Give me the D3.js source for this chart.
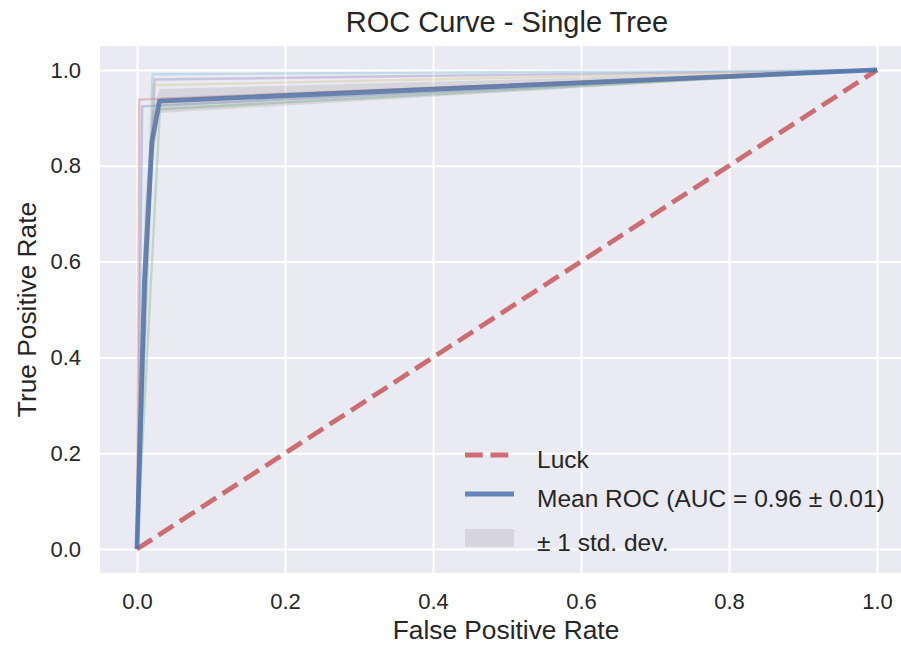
<!DOCTYPE html>
<html>
<head>
<meta charset="utf-8">
<script src="https://cdn.jsdelivr.net/npm/d3@7"></script>
<style>
  html, body { margin: 0; padding: 0; background: #ffffff; }
  svg { display: block; font-family: "Liberation Sans", Arial, sans-serif; }
</style>
</head>
<body>
<svg id="chart" width="901" height="646"></svg>
<script>
// ---- data ----
const titleText = "ROC Curve - Single Tree";
const xLabel = "False Positive Rate";
const yLabel = "True Positive Rate";
const xTicks = [0.0, 0.2, 0.4, 0.6, 0.8, 1.0];
const yTicks = [0.0, 0.2, 0.4, 0.6, 0.8, 1.0];

// individual folds: each ROC is (0,0) -> (corner fpr, corner tpr) -> (1,1)
const foldColors = ["#4C72B0", "#55A868", "#C44E52", "#8172B2", "#CCB974", "#64B5CD"];
const foldFpr = [0.007, 0.031, 0.003, 0.024, 0.022, 0.021];
const foldTpr = [0.924, 0.918, 0.938, 0.980, 0.968, 0.991];

// mean ROC and its standard deviation
const meanFpr = [0, 0.0101, 0.0202, 0.0303, 1.0];
const meanTpr = [0, 0.56, 0.85, 0.935, 1.0];
const stdTpr  = [0, 0.15, 0.06, 0.025, 0.0];

// chance line
const luckX = [0, 1];
const luckY = [0, 1];

const legendLabels = ["Luck", "Mean ROC (AUC = 0.96 \u00B1 0.01)", "\u00B1 1 std. dev."];

// ---- layout ----
const svg = d3.select("#chart");
const pL = 100, pR = 914, pT = 46, pB = 573;

const x = d3.scaleLinear().domain([-0.05, 1.05]).range([pL, pR]);
const y = d3.scaleLinear().domain([-0.05, 1.05]).range([pB, pT]);

const textColor = "#262626";
const fontFam = "'Liberation Sans', Arial, sans-serif";

// background
svg.append("rect")
  .attr("x", pL).attr("y", pT)
  .attr("width", pR - pL).attr("height", pB - pT)
  .attr("fill", "#EAEAF2");

svg.append("defs").append("clipPath").attr("id", "plotclip")
  .append("rect")
  .attr("x", pL).attr("y", pT)
  .attr("width", pR - pL).attr("height", pB - pT);

// grid via axes
const xGrid = d3.axisBottom(x).tickValues(xTicks).tickSize(-(pB - pT)).tickFormat("");
const yGrid = d3.axisLeft(y).tickValues(yTicks).tickSize(-(pR - pL)).tickFormat("");
svg.append("g").attr("transform", `translate(0,${pB})`).call(xGrid)
  .call(g => g.select(".domain").remove())
  .call(g => g.selectAll("line").attr("stroke", "#ffffff").attr("stroke-width", 2));
svg.append("g").attr("transform", `translate(${pL},0)`).call(yGrid)
  .call(g => g.select(".domain").remove())
  .call(g => g.selectAll("line").attr("stroke", "#ffffff").attr("stroke-width", 2));

// tick labels via axes
const fmt = d3.format(".1f");
svg.append("g").attr("transform", `translate(0,${pB})`)
  .call(d3.axisBottom(x).tickValues(xTicks).tickSize(0).tickPadding(20).tickFormat(fmt))
  .call(g => g.select(".domain").remove())
  .call(g => g.selectAll("text").attr("fill", textColor).attr("font-size", 22)
        .attr("font-family", fontFam));
svg.append("g").attr("transform", `translate(${pL},0)`)
  .call(d3.axisLeft(y).tickValues(yTicks).tickSize(0).tickPadding(19).tickFormat(fmt))
  .call(g => g.select(".domain").remove())
  .call(g => g.selectAll("text").attr("fill", textColor).attr("font-size", 22)
        .attr("font-family", fontFam));

const plot = svg.append("g").attr("clip-path", "url(#plotclip)");
const line = d3.line().x(d => x(d[0])).y(d => y(d[1]));

// folds
foldFpr.forEach((f, i) => {
  const pts = [[0, 0], [f, foldTpr[i]], [1, 1]];
  plot.append("path").attr("d", line(pts))
    .attr("fill", "none")
    .attr("stroke", foldColors[i % foldColors.length])
    .attr("stroke-width", 2.4)
    .attr("stroke-opacity", 0.3);
});

// luck
plot.append("path").attr("d", line(luckX.map((v, i) => [v, luckY[i]])))
  .attr("fill", "none")
  .attr("stroke", "#C44E52")
  .attr("stroke-opacity", 0.8)
  .attr("stroke-width", 4.8)
  .attr("stroke-dasharray", "17.8,7.7");

// mean
const meanPts = meanFpr.map((v, i) => [v, meanTpr[i]]);
plot.append("path").attr("d", line(meanPts))
  .attr("fill", "none")
  .attr("stroke", "#4C72B0")
  .attr("stroke-opacity", 0.85)
  .attr("stroke-width", 4.8)
  .attr("stroke-linejoin", "round");

// std band
const area = d3.area()
  .x((d, i) => x(meanFpr[i]))
  .y0((d, i) => y(Math.max(meanTpr[i] - stdTpr[i], 0)))
  .y1((d, i) => y(Math.min(meanTpr[i] + stdTpr[i], 1)));
plot.append("path").attr("d", area(meanFpr))
  .attr("fill", "#808080").attr("fill-opacity", 0.2);

// title and axis labels
svg.append("text").attr("x", (pL + pR) / 2).attr("y", 32)
  .attr("text-anchor", "middle").attr("font-size", 29).attr("fill", textColor)
  .text(titleText);
svg.append("text").attr("x", (pL + pR) / 2 - 1).attr("y", 639)
  .attr("text-anchor", "middle").attr("font-size", 26.3).attr("fill", textColor)
  .text(xLabel);
svg.append("text")
  .attr("transform", `translate(36,${(pT + pB) / 2}) rotate(-90)`)
  .attr("text-anchor", "middle").attr("font-size", 26.3).attr("fill", textColor)
  .text(yLabel);

// legend
const lg = svg.append("g");
const legY = [455, 494, 538];
lg.append("line").attr("x1", 465).attr("x2", 514).attr("y1", legY[0]).attr("y2", legY[0])
  .attr("stroke", "#C44E52").attr("stroke-opacity", 0.8).attr("stroke-width", 4.8)
  .attr("stroke-dasharray", "17.8,7.7");
lg.append("line").attr("x1", 465).attr("x2", 514).attr("y1", legY[1]).attr("y2", legY[1])
  .attr("stroke", "#4C72B0").attr("stroke-opacity", 0.85).attr("stroke-width", 4.8);
lg.append("rect").attr("x", 465).attr("y", legY[2] - 9).attr("width", 49).attr("height", 18)
  .attr("fill", "#808080").attr("fill-opacity", 0.2);
legendLabels.forEach((t, i) => {
  lg.append("text").attr("x", 537).attr("y", legY[i] + 4).attr("dy", "0.35em")
    .attr("font-size", 24.5).attr("fill", textColor).text(t);
});
</script>
</body>
</html>
